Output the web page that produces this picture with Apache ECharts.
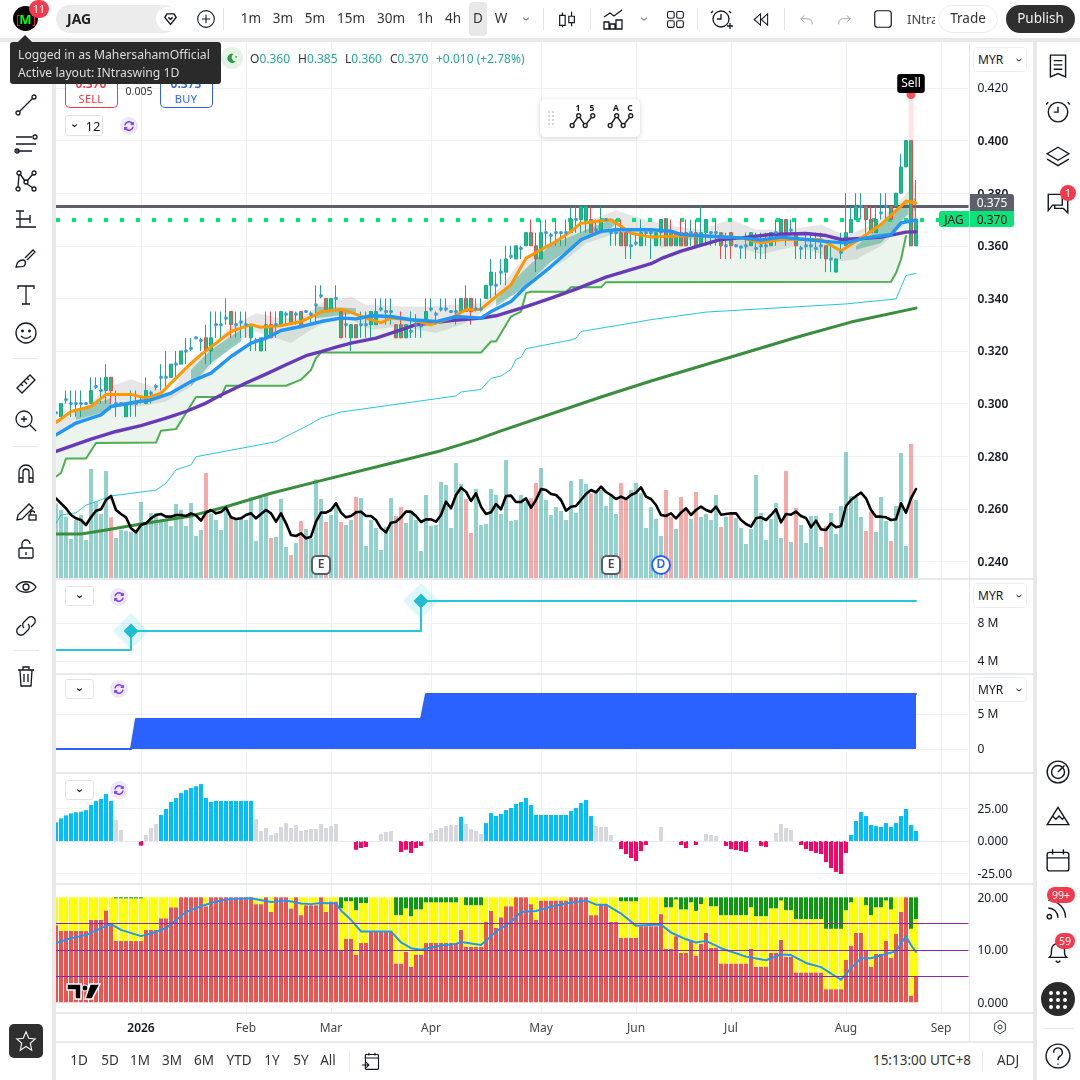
<!DOCTYPE html>
<html><head><meta charset="utf-8"><title>JAG</title>
<style>
html,body{margin:0;padding:0;background:#fff;width:1080px;height:1080px;overflow:hidden;font-family:"Noto Sans",sans-serif;color:#131722}
#chart{position:absolute;left:0;top:0;width:1080px;height:1080px}
.p{position:absolute}
.t{position:absolute;transform:translate(-50%,-50%);white-space:nowrap;font-size:13px;line-height:1}
.l{position:absolute;transform:translateY(-50%);white-space:nowrap;font-size:13px;line-height:1}
svg{position:absolute;overflow:visible}
</style>
<script src="https://cdn.jsdelivr.net/npm/echarts@6/dist/echarts.min.js"></script>
</head><body><div id="chart"></div><div id="ui"></div>
<script>
// ---------- DATA ----------
const BAR_SLOTS = 183;
const categories = Array.from({length: BAR_SLOTS}, (_, i) => 'd' + i);
const monthTicks = [17, 38, 55, 75, 97, 116, 135, 158, 177];
const monthLabels = ['2026', 'Feb', 'Mar', 'Apr', 'May', 'Jun', 'Jul', 'Aug', 'Sep'];

const opens = [.2965,.295,.3015,.30,.30,.30,.30,.30,.3065,.305,
.305,.31,.30,.30,.295,.30,.30,.301,.30,.304,
.3065,.31,.31,.31,.315,.315,.32,.321,.325,.324,
.325,.32,.33,.33,.3325,.335,.33,.331,.33,.325,
.324,.32,.325,.33,.33,.33,.334,.335,.334,.335,
.335,.334,.3375,.341,.34,.335,.34,.335,.33,.325,
.33,.33,.33,.33,.33,.336,.335,.335,.33,.33,
.325,.3275,.33,.3295,.33,.336,.334,.336,.336,.335,
.335,.335,.34,.34,.336,.336,.34,.345,.345,.35,
.35,.356,.355,.359,.36,.365,.36,.355,.365,.364,
.365,.365,.365,.365,.37,.37,.37,.37,.366,.365,
.37,.365,.365,.365,.365,.36,.361,.36,.365,.365,
.36,.365,.37,.365,.36,.365,.365,.365,.365,.36,
.365,.365,.365,.365,.36,.365,.36,.3595,.36,.36,
.359,.36,.36,.36,.365,.365,.37,.366,.365,.359,
.36,.36,.359,.36,.36,.355,.35,.3575,.36,.365,
.37,.375,.375,.37,.365,.3725,.375,.375,.375,.38,
.39,.40,.36];
const closes = [.2965,.30,.3015,.30,.30,.30,.30,.305,.3065,.305,
.31,.305,.30,.30,.30,.30,.30,.301,.305,.304,
.3065,.31,.31,.315,.315,.32,.32,.321,.325,.324,
.32,.325,.33,.33,.3325,.33,.33,.331,.33,.33,
.324,.325,.33,.325,.33,.335,.334,.33,.334,.33,
.335,.334,.3375,.341,.335,.34,.34,.325,.33,.33,
.325,.33,.33,.335,.335,.336,.335,.335,.325,.325,
.33,.3275,.33,.3295,.335,.336,.334,.336,.336,.335,
.335,.34,.335,.335,.336,.336,.345,.35,.345,.35,
.355,.356,.36,.359,.365,.36,.355,.365,.365,.364,
.365,.365,.365,.37,.37,.375,.375,.365,.366,.37,
.37,.365,.365,.36,.36,.36,.361,.365,.365,.365,
.365,.37,.36,.36,.365,.36,.36,.365,.36,.365,
.37,.365,.365,.36,.36,.36,.36,.3595,.36,.365,
.359,.36,.36,.365,.365,.37,.365,.366,.36,.359,
.36,.36,.359,.36,.355,.355,.355,.3575,.365,.37,
.375,.375,.37,.365,.37,.3725,.375,.37,.38,.39,
.40,.36,.37];
const highs = [.2995,.30,.305,.305,.305,.305,.3005,.31,.31,.31,
.315,.31,.305,.3005,.30,.305,.305,.303,.31,.305,
.3075,.315,.32,.315,.32,.32,.325,.325,.3255,.325,
.33,.335,.335,.335,.34,.335,.335,.335,.335,.33,
.325,.325,.335,.335,.335,.335,.335,.335,.335,.335,
.3355,.335,.345,.345,.34,.34,.345,.335,.335,.33,
.33,.335,.335,.335,.34,.34,.34,.34,.33,.335,
.33,.335,.334,.331,.34,.34,.335,.34,.34,.3355,
.34,.34,.345,.34,.34,.34,.345,.355,.35,.355,
.36,.36,.36,.36,.365,.37,.365,.37,.37,.365,
.37,.3655,.37,.375,.375,.375,.375,.375,.37,.375,
.3705,.3655,.37,.37,.365,.365,.365,.37,.3655,.3655,
.365,.37,.37,.37,.365,.37,.37,.37,.37,.375,
.37,.3655,.37,.365,.365,.365,.3605,.36,.365,.365,
.365,.365,.365,.365,.37,.37,.37,.37,.37,.36,
.365,.365,.365,.365,.36,.36,.355,.365,.38,.375,
.38,.38,.375,.375,.375,.38,.38,.375,.38,.395,
.40,.40,.385];
const lows = [.295,.295,.30,.295,.295,.295,.2995,.30,.3055,.30,
.30,.30,.295,.2995,.295,.295,.295,.30,.30,.30,
.305,.305,.305,.31,.31,.315,.315,.32,.3245,.32,
.315,.315,.325,.325,.33,.325,.325,.325,.325,.32,
.32,.32,.32,.325,.325,.33,.33,.33,.33,.33,
.3345,.33,.33,.34,.335,.335,.335,.325,.325,.32,
.325,.325,.325,.325,.33,.335,.33,.33,.325,.325,
.325,.325,.325,.325,.33,.335,.33,.335,.335,.3345,
.33,.335,.335,.33,.335,.335,.34,.34,.34,.345,
.345,.355,.355,.355,.36,.36,.35,.355,.36,.36,
.36,.36,.36,.365,.365,.365,.365,.365,.365,.365,
.3695,.36,.36,.36,.355,.355,.36,.36,.36,.355,
.36,.36,.36,.36,.36,.36,.36,.36,.36,.36,
.36,.36,.36,.355,.355,.355,.3595,.355,.355,.36,
.355,.355,.355,.36,.36,.365,.36,.365,.355,.355,
.355,.355,.355,.355,.35,.35,.35,.355,.36,.365,
.37,.37,.365,.365,.365,.37,.37,.37,.375,.38,
.39,.36,.36];

const volumes = [224,204,184,117,174,189,114,327,229,192,
321,182,120,144,142,139,144,228,164,195,
195,174,176,156,222,204,156,225,126,144,
315,194,174,144,204,182,179,179,174,242,
111,242,246,120,123,237,93,69,105,171,
147,119,296,237,168,189,224,168,159,174,
243,240,96,174,150,84,154,240,186,213,
165,201,174,81,249,156,159,288,279,150,
345,282,237,135,267,159,162,267,249,192,
354,171,174,249,228,239,285,330,234,189,
213,201,174,291,195,297,282,254,264,264,
216,249,192,285,239,264,285,254,150,213,
177,126,264,184,147,243,204,177,258,183,
192,174,249,153,184,198,180,150,102,147,
309,195,114,177,225,120,321,108,210,159,
105,186,186,93,156,195,132,216,378,246,
246,183,141,199,138,243,171,111,216,375,
96,402,234];
const oscillator = [239,224,209,189,179,174,159,182,202,206,
234,246,204,192,182,149,137,159,164,179,
189,192,184,184,189,189,186,194,188,172,
196,204,194,198,211,182,177,179,189,194,
179,192,204,194,169,194,164,129,126,134,
119,124,169,196,196,204,224,196,182,186,
197,199,186,186,174,149,137,166,169,182,
199,199,186,168,176,176,169,189,229,209,
249,271,259,231,254,214,192,197,222,206,
246,247,228,228,239,211,234,267,264,252,
249,234,202,214,216,234,252,264,257,274,
258,249,237,244,237,249,256,272,244,237,
219,189,186,194,179,196,209,189,204,214,
204,198,214,190,192,194,194,174,162,154,
179,182,174,189,206,167,192,190,199,186,
180,152,172,146,144,164,152,156,216,234,
246,256,239,204,184,184,182,174,176,224,
196,239,267];

const orangeLine = [[0,.2928],[3,.297],[7,.2989],[10,.3035],[15,.3035],[18,.3021],[21,.304],[26,.3135],[29,.3186],[32,.323],[35,.3274],[39,.33],[41,.329],[45,.3296],[49,.3312],[53,.3348],[57,.3359],[59,.3347],[62,.3325],[65,.3308],[67,.3325],[71,.3319],[75,.33],[79,.3325],[82,.3357],[85,.3359],[88,.3407],[91,.3452],[94,.3553],[97,.3585],[100,.3616],[103,.3655],[105,.3686],[111,.3699],[113,.3674],[115,.3648],[119,.3633],[125,.3637],[130,.3637],[137,.363],[141,.3611],[145,.3624],[153,.3624],[157,.358],[161,.363],[165,.3681],[169,.3751],[170,.377],[172,.3763]];
const blueLine = [[0,.2881],[4,.2926],[9,.2957],[11,.2989],[16,.3006],[19,.3014],[23,.304],[27,.3084],[31,.3116],[35,.3179],[39,.323],[42,.3249],[45,.3278],[49,.3293],[53,.3312],[57,.3325],[60,.3322],[63,.3334],[67,.3331],[71,.3319],[76,.3312],[80,.3331],[85,.3325],[87,.335],[91,.3388],[94,.3445],[99,.3521],[102,.3572],[105,.3623],[109,.3655],[112,.3661],[119,.3661],[123,.3656],[125,.3643],[130,.3637],[137,.363],[141,.3622],[145,.3633],[150,.3624],[155,.3615],[158,.3611],[162,.363],[167,.3643],[169,.3687],[172,.3698]];
const purpleLine = [[0,.2818],[7,.2865],[12,.2894],[17,.2916],[22,.2945],[26,.297],[30,.3002],[33,.3033],[38,.3078],[42,.3112],[46,.3148],[50,.3182],[53,.3198],[56,.3215],[59,.323],[64,.3249],[69,.328],[72,.33],[79,.3316],[85,.3325],[88,.3334],[94,.3369],[99,.3401],[104,.3435],[110,.3481],[115,.3509],[119,.3532],[121,.3551],[125,.358],[133,.3624],[137,.363],[143,.3643],[150,.3647],[154,.3639],[157,.3624],[161,.3628],[165,.3633],[170,.3652],[172,.3653]];
const stopLine = [[0,.2723],[1,.2736],[2,.2791],[6,.2791],[8,.285],[20,.2852],[21,.2897],[24,.2903],[28,.3025],[33,.3025],[34,.3068],[46,.3068],[49,.3091],[51,.3128],[52,.3173],[53,.3194],[85,.3194],[87,.3236],[88,.3236],[91,.3331],[93,.335],[94,.342],[95,.3425],[102,.3425],[103,.3442],[109,.3442],[110,.3461],[167,.3463],[168,.3497],[169,.3548],[170,.3637]];
const cyanLine = [[0,.2545],[1,.2576],[4,.2585],[6,.2614],[8,.2627],[11,.2649],[20,.2671],[22,.2697],[24,.2748],[27,.2767],[28,.2798],[44,.2855],[46,.2875],[50,.2913],[53,.2945],[57,.2968],[80,.3029],[81,.3044],[85,.3054],[87,.3096],[89,.3105],[91,.313],[92,.3168],[93,.3176],[94,.3209],[103,.3242],[104,.3249],[105,.3274],[119,.3319],[130,.3348],[158,.3379],[168,.3398],[170,.3487],[172,.3495]];
const darkGreenLine = [[0,.2504],[5,.2504],[10,.2519],[17,.2542],[27,.2573],[34,.2608],[43,.2659],[53,.2707],[67,.2773],[77,.2821],[84,.2862],[89,.2896],[109,.3025],[119,.3086],[129,.3143],[149,.3257],[159,.331],[172,.3363]];
const cloudUpper = [[0,.2938],[7,.3002],[10,.3059],[15,.3093],[19,.3065],[23,.304],[27,.3167],[30,.3205],[35,.3293],[40,.3344],[45,.3325],[49,.3325],[53,.3382],[59,.3407],[62,.3376],[69,.3369],[74,.3369],[79,.3376],[85,.3382],[89,.3445],[93,.354],[96,.3585],[101,.3635],[107,.3699],[112,.3734],[118,.3699],[123,.3675],[129,.3662],[135,.37],[140,.3662],[147,.3662],[153,.3681],[158,.3637],[164,.3687],[169,.3776],[172,.384]];
const cloudLower = [[0,.2875],[7,.2945],[11,.2989],[17,.2989],[22,.3008],[27,.3065],[30,.3122],[35,.3217],[40,.3274],[47,.323],[51,.3281],[55,.3319],[59,.3319],[63,.3281],[69,.3293],[76,.3268],[82,.3306],[88,.3382],[92,.342],[96,.3483],[102,.3547],[106,.361],[112,.3648],[118,.3648],[121,.3592],[127,.3624],[134,.3611],[141,.3567],[148,.3599],[157,.3542],[160,.3548],[165,.3599],[170,.3687],[172,.37]];
const tealBands = [
 {up:[[4,.2976],[11,.3021]], lo:[[4,.2938],[11,.2976]]},
 {up:[[27,.3129],[31,.3205],[37,.3281]], lo:[[27,.3065],[31,.3154],[37,.3236]]},
 {up:[[52,.3369],[60,.3363]], lo:[[52,.3325],[60,.3344]]},
 {up:[[88,.3395],[93,.3496],[99,.3604],[106,.3661],[111,.3699],[112,.3686]], lo:[[88,.3369],[93,.3433],[99,.354],[106,.3629],[111,.3667],[112,.3686]]},
 {up:[[160,.3599],[165,.3675],[170,.377],[172,.3783]], lo:[[160,.3585],[165,.3611],[170,.3713],[172,.3738]]}
];

const earningsAt = [53, 111];
const dividendAt = [121];
const sellAt = 171, sellLevel = .4175;

const lineLevelA = [[0,5.16],[15,7.16],[73,10.32],[172,10.32]];
const diamonds = [[15,7.16],[73,10.32]];
const blueArea = [[0,0],[15,0],[16,4.3],[73,4.3],[74,7.86],[172,7.86]];

const histogram = [14.4,17.4,19.7,21.3,22.1,22.6,23.8,27.7,30.8,32.3,
36.2,30.8,16.2,8.5,0,0,0,-3.6,4.6,10,
13.1,20,24.6,30,33.1,36.9,39.2,40.8,42.1,43.8,
33.1,30,30.8,30.8,30.8,30.8,30.8,30.8,30.8,30.8,
16.9,7.7,10,4.6,6.2,10.8,13.8,10,12.3,7.7,
8.5,9.2,9.2,13.1,10,11.5,13.1,0,0,0,
-6.7,-5.4,-4.6,0,0,5.4,6.9,7.7,0,-8.5,
-6.7,-9.2,-5.4,-3.8,0,6.2,8.5,10,11.5,12.3,
12.3,18.5,13.1,9.2,7.7,5.4,13.8,21.5,19.2,20.8,
23.8,25.4,28.5,30,33.1,27.7,20,20,20,20,
20,20,20,23.1,25.4,29.2,31.5,19.2,11.5,10.8,
10.8,4.6,0,-6.2,-10,-13.1,-15.4,-7.7,-3.1,0,
0,10.8,0,0,0,-3.1,-5.4,0,-3.1,0,
5.4,4.6,3.8,0,-3.8,-6.2,-6.9,-7.7,-8.5,0,
0,-3.8,-4.6,0,6.2,13.1,10,8.5,0,-3.1,
-6.2,-7.7,-9.2,-10,-16.2,-20.8,-23.8,-25.4,-9.2,4.6,
15.4,22.3,19.2,12.3,11.5,10.8,13.8,10.8,13.8,19.2,
24.6,12.3,7.7];
const histBlueRanges = [[0,11],[21,39],[81,81],[86,107],[159,172]];

const redStack = [14.7,13.6,13.6,13.6,13.6,13.6,13.6,15.7,15.7,15.7,
17.5,14.7,11.7,11.7,11.7,11.7,11.7,11.7,13.8,13.8,
13.8,16,16,18.1,18.1,20,20,20,20,20,
18.3,20,20,20,20,20,20,20,20,20,
18.7,18.7,20,17.2,20,20,20,17.9,20,16.6,
18.5,18.5,18.5,20,17.2,19.2,19.2,9.8,12.1,12.1,
9.1,11.3,11.3,13.4,13.4,13.4,13.4,13.4,7.4,7.4,
9.6,6.8,9.1,9.1,11.3,11.3,11.3,11.3,11.3,11.3,
11.3,13.8,10.6,10.6,10.6,10.6,15.3,17.4,14.2,16.2,
18.3,18.3,20,20,20,18.7,15.7,19.4,19.4,19.4,
19.4,19.4,19.4,20,20,20,20,16.6,16.6,18.7,
18.7,15.3,15.3,12.3,12.3,12.3,12.3,14.5,14.5,14.5,
14.5,16.8,10.2,10.2,12.6,9.4,9.4,11.9,8.9,11.1,
13.2,10.4,10.4,7.4,7.4,7.4,7.4,7.4,7.4,10.2,
6.8,6.8,6.8,9.4,9.4,11.9,8.7,8.7,5.7,5.7,
5.7,5.7,5.7,5.7,2.5,2.5,2.5,2.5,8.1,10.8,
13.2,13.2,9.8,6.8,9.2,9.2,11.7,8.5,13,17.2,
20,1.3,4.9];
const greenStack = [0,0,0,0,0,0,0,0,0,0,
0,0,.2,.2,.2,.2,.2,.2,0,0,
0,0,0,0,0,0,0,0,0,0,
0,0,0,0,0,0,0,0,0,0,
0,0,0,0,0,0,0,0,0,0,
0,0,0,0,0,0,0,2.1,.75,.75,
2.45,1.1,1.1,0,0,0,0,0,3.4,3.4,
2.1,3.6,2.3,2.3,.95,.95,.95,.95,.95,.95,
.95,0,1.5,1.5,1.5,1.5,0,0,0,0,
0,0,0,0,0,0,0,0,0,0,
0,0,0,0,0,0,0,0,0,0,
0,0,0,.75,.75,.75,.75,0,0,0,
0,0,1.9,1.9,.4,2.3,2.3,.95,2.6,1.3,
0,1.7,1.7,3.4,3.4,3.4,3.4,3.4,3.4,1.9,
3.6,3.6,3.6,2.1,2.1,.6,2.45,2.45,4.15,4.15,
4.15,4.15,4.15,4.15,6,6,6,6,2.45,.95,
0,0,1.5,3.4,1.9,1.9,.6,2.3,0,0,
0,6,4.15];
const bandLine = [[0,11.3],[3,12.2],[6,12.8],[9,14.1],[11,14.9],[13,13.8],[17,12.6],[19,13.1],[22,14.1],[26,17.2],[29,18.3],[32,19.2],[35,19.7],[39,19.8],[43,19.1],[46,19.4],[49,18.8],[51,18.7],[53,18.9],[56,18.8],[57,17.5],[59,15.7],[61,13.5],[67,13.5],[69,11.4],[71,10.3],[73,10],[77,10.8],[80,11.1],[81,11.5],[85,10.9],[87,12.6],[88,13.5],[91,15.3],[93,17.2],[96,17.4],[99,18.2],[102,18.8],[106,19.4],[108,18.6],[110,18.6],[113,16.9],[116,14.6],[121,14.8],[123,13.3],[126,12],[128,11.4],[130,11.7],[133,10.3],[138,8.7],[142,8],[145,9.1],[147,9],[150,7.5],[153,6.7],[157,4.3],[159,6.5],[161,8.4],[163,8.4],[166,9.2],[168,9.7],[170,12.6],[171,10.9],[172,9.6]];
const bandLevels = [15, 10, 5];

const priceLevelGrey = .375, priceLevelGreen = .37;
const priceTicksFaint = [.42];

// ---------- chart ----------
const chart = echarts.init(document.getElementById('chart'), null, {renderer:'canvas'});
const LEFT = 53.5, RIGHTGAP = 111.5, GRIDC = '#f0f1f5', TXT = '#131722', FONT = '"Noto Sans",sans-serif';
const tickSet = new Set(monthTicks);
const isTick = i => tickSet.has(i);
const grid = (top, h) => ({left:LEFT, right:RIGHTGAP, top, height:h});
const grids = [grid(35.4,578.6), grid(42,536), grid(585,114), grid(679,105), grid(776,130), grid(897.3,105)];
const xAxes = grids.map((g,k)=>({
  type:'category', gridIndex:k, data:categories, boundaryGap:true,
  axisLine:{show:false},
  axisTick: k===5 ? {show:true, interval:i=>isTick(i), alignWithLabel:true, length:10, lineStyle:{color:GRIDC}} : {show:false},
  axisLabel: k===5 ? {show:true, interval:i=>isTick(i), margin:20, fontFamily:FONT, fontSize:12, color:'#444',
     formatter:(v,i)=>{const n=monthTicks.indexOf(i); const s=n>=0?monthLabels[n]:''; return n===0?'{b|'+s+'}':s;},
     rich:{b:{fontWeight:600,color:TXT,fontSize:12,fontFamily:FONT}}} : {show:false},
  splitLine:{show:k!==1, interval:i=>isTick(i), alignWithLabel:true, lineStyle:{color:GRIDC,width:1}}
}));
const valAxis = (k,min,max,interval,fmt,extra) => Object.assign({
  type:'value', gridIndex:k, position:'right', min, max, interval, scale:false,
  axisLine:{show:false}, axisTick:{show:false},
  axisLabel:{show:true, margin:9, padding:[2,0,0,0], fontFamily:FONT, fontSize:12, color:TXT, showMinLabel:false, showMaxLabel:false, formatter:fmt,
    rich:{b:{fontWeight:600,color:TXT,fontSize:12,fontFamily:FONT}}},
  splitLine:{show:true, showMinLine:false, showMaxLine:false, lineStyle:{color:GRIDC,width:1}}
}, extra||{});
const yAxes = [
  valAxis(0,.22,.44,.02,v=>{const s=v.toFixed(3); return priceTicksFaint.some(t=>Math.abs(t-v)<1e-6)?s:'{b|'+s+'}';}),
  {type:'value', gridIndex:1, min:0, max:1608, show:false},
  valAxis(2,0,12,4,v=>v+' M'),
  valAxis(3,-5,10,5,v=>v===0?'0':v+' M'),
  valAxis(4,-50,50,25,v=>v===0?'0.000':v.toFixed(2)),
  valAxis(5,0,20,10,v=>v===0?'0.000':v.toFixed(2))
];
yAxes[5].axisLabel.showMinLabel = true; yAxes[5].axisLabel.showMaxLabel = true;
yAxes[5].splitLine.show = false;

const on = k => ({xAxisIndex:k, yAxisIndex:k});
const polyBand = (up, lo, fill, z) => Object.assign(on(0),{
  type:'custom', z, silent:true, clip:true, data:[[0,.3]],
  encode:{x:0,y:1},
  renderItem:(p,api)=>({type:'polygon', shape:{points: up.map(q=>api.coord(q)).concat(lo.slice().reverse().map(q=>api.coord(q)))}, style:{fill}})
});
const line = (k,data,color,width,z,more) => Object.assign(on(k),{
  type:'line', data, z, silent:true, symbol:'none', showSymbol:false, clip:true,
  lineStyle:{color,width,cap:'round',join:'round'}, animation:false
}, more||{});
const hasDoji = i => opens[i]===closes[i];
const dojis = opens.map((o,i)=>[i,closes[i]]).filter(d=>hasDoji(d[0]));
const histColor = (v,i) => v<0 ? '#ff0066' : histBlueRanges.some(r=>i>=r[0]&&i<=r[1]) ? '#00bfff' : '#d6d8de';

const series = [
  // volume + oscillator
  Object.assign(on(1),{type:'bar', z:1, silent:true, barWidth:4, data:volumes.map((v,i)=>({value:v,itemStyle:{color:closes[i]<opens[i]?'rgba(239,83,80,.5)':'rgba(38,166,154,.5)'}}))}),
  // cloud fills
  polyBand(blueLine, stopLine, '#ebf5ee', 2),
  polyBand(cloudUpper, cloudLower, 'rgba(130,130,130,.2)', 3),
  ...tealBands.map(b=>polyBand(b.up,b.lo,'rgba(80,175,150,.55)',4)),
  line(0,cyanLine,'#26c6da',1,4),
  line(0,darkGreenLine,'#388e3c',3,4),
  line(0,stopLine,'#4caf50',2,4),
  line(1,oscillator.map((v,i)=>[i,v]),'#000',2.6,5),
  line(0,[[sellAt,.36],[sellAt,sellLevel]],'#fde3e3',5,4,{lineStyle:{color:'#fde3e3',width:5,cap:'butt'}}),
  // candles
  Object.assign(on(0),{type:'candlestick', z:6, silent:true, barWidth:3,
    data:opens.map((o,i)=>[o,closes[i],lows[i],highs[i]]),
    itemStyle:{color:'#0ec77c',color0:'#0ec77c',borderColor:'#1fa397',borderColor0:'#f0454f',borderColorDoji:'#1fa397',borderWidth:1}}),
  line(0,purpleLine,'#673ab7',3.4,7),
  line(0,orangeLine,'#ff9800',3,8),
  line(0,blueLine,'#2196f3',3.4,8),
  Object.assign(on(0),{type:'scatter', z:9, silent:true, symbol:'rect', symbolSize:3, data:dojis, itemStyle:{color:'#3a9ad9',opacity:1},
    markLine:{silent:true, symbol:'none', precision:4, label:{show:false}, animation:false, data:[
      {yAxis:priceLevelGrey, lineStyle:{color:'#5d606b',width:3,type:'solid'}},
      {yAxis:priceLevelGreen, lineStyle:{color:'#00e676',width:4,type:[4,12],dashOffset:13.5}}
    ]}}),
  Object.assign(on(0),{type:'scatter', z:10, silent:true, symbol:'circle', symbolSize:9, data:[[sellAt,sellLevel]], itemStyle:{color:'#ff5252',opacity:1},
    label:{show:true, position:'top', distance:-3, formatter:'Sell', color:'#fff', backgroundColor:'#000', padding:[4,4,3,4], borderRadius:3, fontSize:12, fontFamily:FONT}}),
  // earnings / dividend
  Object.assign(on(1),{type:'scatter', z:10, silent:true, symbol:'roundRect', symbolSize:[18,18], data:earningsAt.map(i=>[i,39]),
    itemStyle:{color:'#fff',borderColor:'#5b5e68',borderWidth:2,opacity:1},
    label:{show:true,position:'inside',formatter:'E',color:'#444',fontWeight:600,fontSize:12,fontFamily:FONT}}),
  Object.assign(on(1),{type:'scatter', z:10, silent:true, symbol:'circle', symbolSize:18, data:dividendAt.map(i=>[i,39]),
    itemStyle:{color:'#fff',borderColor:'#2962ff',borderWidth:2,opacity:1},
    label:{show:true,position:'inside',formatter:'D',color:'#2962ff',fontWeight:600,fontSize:12,fontFamily:FONT}}),
  // pane 2
  line(2,lineLevelA,'#26c6da',2,3,{step:'end'}),
  Object.assign(on(2),{type:'scatter', z:3, silent:true, symbol:'diamond', symbolSize:36, data:diamonds, itemStyle:{color:'rgba(38,198,218,.16)',opacity:1}}),
  Object.assign(on(2),{type:'scatter', z:4, silent:true, symbol:'diamond', symbolSize:15, data:diamonds, itemStyle:{color:'#1fbdd0',opacity:1}}),
  // pane 3
  line(3,blueArea,'#2962ff',2,3,{areaStyle:{color:'#2962ff',opacity:1,origin:0}}),
  // pane 4
  Object.assign(on(4),{type:'bar', z:3, silent:true, barWidth:4, data:histogram.map((v,i)=>({value:v,itemStyle:{color:histColor(v,i)}})),
    markLine:{silent:true,symbol:'none',label:{show:false},animation:false,data:[{yAxis:0,lineStyle:{color:'#e3e5ea',width:1,type:[3,3]}}]}}),
  // pane 5
  Object.assign(on(5),{type:'bar', z:2, silent:true, stack:'b', barWidth:4, data:redStack, itemStyle:{color:'#ef5350'}}),
  Object.assign(on(5),{type:'bar', z:2, silent:true, stack:'b', barWidth:4, data:redStack.map((r,i)=>20-r-greenStack[i]), itemStyle:{color:'#ffff00'}}),
  Object.assign(on(5),{type:'bar', z:2, silent:true, stack:'b', barWidth:4, data:greenStack, itemStyle:{color:'#0e9a0e'},
    markLine:{silent:true,symbol:'none',label:{show:false},animation:false,data:bandLevels.map(v=>({yAxis:v,lineStyle:{color:'#8e24aa',width:1,type:'solid'}}))}}),
  line(5,bandLine,'#2196f3',2,4)
];
chart.setOption({animation:false, backgroundColor:'#fff', grid:grids, xAxis:xAxes, yAxis:yAxes, series});

// ---------- chrome (real text, drawn as page elements) ----------
const ui = document.getElementById('ui');
const add = (html)=>ui.insertAdjacentHTML('beforeend',html);
const rect = (x,y,w,h,bg,extra='')=>add(`<div class="p" style="left:${x}px;top:${y}px;width:${w}px;height:${h}px;background:${bg};${extra}"></div>`);
const txt = (x,y,s,css='')=>add(`<div class="t" style="left:${x}px;top:${y}px;${css}">${s}</div>`);
const ltxt = (x,y,s,css='')=>add(`<div class="l" style="left:${x}px;top:${y}px;${css}">${s}</div>`);
const ic = (cx,cy,inner,s=24,col='#131722',sw=1.3)=>add(`<svg style="left:${cx-s/2}px;top:${cy-s/2}px" width="${s}" height="${s}" viewBox="0 0 24 24" fill="none" stroke="${col}" stroke-width="${sw}">${inner}</svg>`);

const STRIP='#e9e9ea';
// panels
rect(0,0,1080,38,'#fff'); rect(0,38,1080,4,STRIP);
rect(0,42,52,1038,'#fff'); rect(52,42,4,1038,STRIP);
rect(1033,42,4,1038,STRIP); rect(1037,42,43,1038,'#fff');
rect(56,1042,977,38,'#fff'); rect(56,1041,977,1.5,'#e8e9ee');
// pane separators
[[578,2],[673,2],[772,1.5],[883,1.5],[1012,2]].forEach(a=>rect(56,a[0],977,a[1],'#e8e9ef'));
rect(969,42,1,999,'#e2e3ea');

// price tags
rect(970,194,44,17,'#5d606b','border-radius:0 3px 0 0');
txt(992,203,'0.375','color:#fff;font-size:12px');
rect(939,211,30,16,'#0be27a','border-radius:3px 0 0 3px');
txt(954,219.5,'JAG','font-size:12px');
rect(970,211,44,16,'#0be27a','border-radius:0 0 3px 0');
txt(992,219.5,'0.370','font-size:12px');

// MYR selectors
[[47],[583],[677]].forEach(a=>{
  rect(973,a[0],54,25,'#fff','border:1px solid #eceef2;border-radius:4px;box-sizing:border-box');
  ltxt(978,a[0]+12.5,'MYR','font-size:12px');
  ic(1019,a[0]+12.5,'<path d="M7 10l5 4 5-4"/>',12,'#131722',2);
});

// tooltip + header
txt(232,58,'<span style="display:block;width:22px;height:22px;border-radius:50%;background:#e4f2e7"></span>','');
ic(232,58,'<path d="M15 5a8 8 0 1 0 3 13 7 7 0 0 1-3-13z" fill="#2e9e46" stroke="none"/><circle cx="19" cy="10" r="1.5" fill="#2e9e46" stroke="none"/>',14);
const G='color:#26a69a', HD='font-size:12px;color:#333';
[[250,'O','0.360'],[298,'H','0.385'],[345,'L','0.360'],[390,'C','0.370']].forEach(a=>ltxt(a[0],59,`${a[1]}<span style="${G}">${a[2]}</span>`,HD));
ltxt(436,59,`<span style="${G}">+0.010 (+2.78%)</span>`,HD);

// sell / buy
rect(65,78,53,30,'#fff','border:1px solid #f23645;border-top:none;border-radius:0 0 5px 5px;box-sizing:border-box');
txt(91,84,'0.370','color:#f23645;font-size:12px;font-weight:600');
txt(91,98,'SELL','color:#f23645;font-size:11px;letter-spacing:.3px');
txt(139,91,'0.005','font-size:10.5px;color:#333');
rect(160,78,53,30,'#fff','border:1px solid #2962ff;border-top:none;border-radius:0 0 5px 5px;box-sizing:border-box');
txt(186,84,'0.373','color:#2962ff;font-size:12px;font-weight:600');
txt(186,98,'BUY','color:#2962ff;font-size:11px;letter-spacing:.3px');
rect(10,42,211,42,'#2a2a2b','border-radius:3px');
ltxt(18,55,'Logged in as MahersahamOfficial','color:#dcdcdc;font-size:12.2px');
ltxt(18,73,'Active layout: INtraswing 1D','color:#dcdcdc;font-size:12.2px');
add('<div class="p" style="left:20px;top:37px;width:10px;height:10px;background:#2a2a2b;transform:rotate(45deg)"></div>');

// pane buttons
const sync=(x,y)=>{add(`<div class="p" style="left:${x-9}px;top:${y-9}px;width:18px;height:18px;border-radius:50%;background:#ece7fb"></div>`);
  ic(x,y,'<path d="M5 11a7 7 0 0 1 12-4l2 2M19 13a7 7 0 0 1-12 4l-2-2" /><path d="M19 5v4h-4M5 19v-4h4"/>',14,'#7c3aed',2.4);};
rect(65,115,38,21,'#fff','border:1px solid #e2e3ea;border-radius:3px;box-sizing:border-box');
ic(74,125,'<path d="M7 10l5 4 5-4"/>',11,'#131722',2.5); txt(93,125.5,'12','font-size:13px'); sync(129,126);
[[596,119],[689,119],[790,119]].forEach(a=>{
  rect(65,a[0]-10,29,20,'#fff','border:1px solid #e2e3ea;border-radius:3px;box-sizing:border-box');
  ic(79.5,a[0],'<path d="M7 10l5 4 5-4"/>',11,'#131722',2.5); sync(a[1],a[0]+ (a[0]===596?1:0));
});

// floating drawing widget
rect(540,99,100,38,'#fff','border-radius:5px;box-shadow:0 1px 5px rgba(0,0,0,.18)');
[[549,116],[553,116],[549,120],[553,120],[549,124],[553,124],[549,112],[553,112]].forEach(a=>rect(a[0]-1,a[1]-1,2,2,'#d3d5da'));
const zig=(x,a,b)=>{ic(x,119,'<path d="M2 18l6-9 6 9 7-9"/><circle cx="2" cy="18" r="1.8" fill="#fff"/><circle cx="8" cy="9" r="1.8" fill="#fff"/><circle cx="14" cy="18" r="1.8" fill="#fff"/><circle cx="21" cy="9" r="1.8" fill="#fff"/>',26,'#222',1.3);
  txt(x-5,108,a,'font-size:8.5px;font-weight:700');txt(x+9,108,b,'font-size:8.5px;font-weight:700');};
zig(583,'1','5'); zig(621,'A','C');

// TradingView style mark
add('<svg style="left:66px;top:982px" width="36" height="20" viewBox="0 0 36 20"><path d="M1 2h14v15H9V8H1z M24 2h10l-8 15h-7z" fill="#000" stroke="#fff" stroke-width="1.5"/><circle cx="19" cy="6" r="3" fill="#000" stroke="#fff" stroke-width="1"/></svg>');

// top toolbar
add('<div class="p" style="left:13px;top:6px;width:25px;height:25px;border-radius:50%;background:#000"></div>');
txt(25.5,19,'<span style="color:#0f0;font-weight:700;font-size:13px">M</span>','');
ltxt(16,19,'<span style="color:#e22;font-size:12px">[</span>',''); ltxt(32,19,'<span style="color:#e22;font-size:12px">]</span>','');
add('<div class="p" style="left:29px;top:0;width:20px;height:18px;border-radius:10px;background:#f23a4d"></div>');
txt(39,9,'11','color:#fff;font-size:10.5px');
rect(56,5,122,28,'#ececec','border-radius:14px');
ltxt(67,19,'JAG','font-weight:700;font-size:14px;color:#222');
add('<div class="p" style="left:156px;top:7px;width:24px;height:24px;border-radius:50%;background:#fff"></div>');
ic(170,19,'<path d="M4 9l3-5h10l3 5-8 10z"/><path d="M9 9l3 3 3-3" stroke-width="2"/>',17,'#131722',2);
ic(206,19,'<circle cx="12" cy="12" r="10"/><path d="M12 7v10M7 12h10"/>',20);
rect(223,8,1,22,'#e2e3e6');
[['1m',251],['3m',283],['5m',315],['15m',351],['30m',391],['1h',425],['4h',453]].forEach(a=>txt(a[1],19,a[0],'font-size:13.5px;color:#333'));
rect(469,2,18,34,'#e8e8e8','border-radius:4px');
txt(478,19,'D','font-size:13.5px;color:#333'); txt(501,19,'W','font-size:13.5px;color:#333');
ic(526,19,'<path d="M7 10l5 4 5-4"/>',14);
rect(543,8,1,22,'#e2e3e6');
ic(567,19,'<path d="M7 5v3M7 19v2M4 8h6v11H4z M17 4v5M17 16v4M14 9h6v7h-6z"/>',22);
rect(590,8,1,22,'#e2e3e6');
ic(613,19,'<path d="M3 10l6-4 4 3 8-6"/><path d="M3 22v-7h5v7zM9 22v-5h5v5zM15 22v-9h6v9z"/>',24);
ic(644,19,'<path d="M7 10l5 4 5-4"/>',14);
ic(675,19,'<rect x="3" y="3" width="8" height="8" rx="2"/><rect x="14" y="3" width="8" height="8" rx="2"/><rect x="3" y="14" width="8" height="8" rx="2"/><rect x="14" y="14" width="8" height="8" rx="2"/>',20);
rect(697,8,1,22,'#e2e3e6');
ic(722,19,'<circle cx="11" cy="12" r="8"/><path d="M11 7v5H7M3 4L1 6M19 4l2 2M17 19h6M20 16v6"/>',24);
ic(760,19,'<path d="M12 5l-8 7 8 7zM21 5l-8 7 8 7z"/>',19);
rect(784,8,1,22,'#e2e3e6');
ic(806,19,'<path d="M9 6L4 11l5 5M4 11h10a6 6 0 0 1 6 6v2"/>',17,'#9a9ea8');
ic(844,19,'<path d="M15 6l5 5-5 5M20 11H10a6 6 0 0 0-6 6v2"/>',17,'#9a9ea8');
ic(883,19,'<rect x="3" y="3" width="18" height="18" rx="3"/>',22,'#131722',1.3);
ltxt(907,19,'INtra','font-size:13px;color:#444;width:28px;overflow:hidden');
rect(938,5,60,28,'#fff','border:1px solid #ececee;border-radius:14px;box-sizing:border-box');
txt(968,19,'Trade','font-size:13.5px;color:#333');
rect(1006,5,69,28,'#2f2f2f','border-radius:14px');
txt(1040.5,19,'Publish','font-size:13.5px;color:#f2f2f2');

// left toolbar
const LI=[
 [105,'<circle cx="4" cy="20" r="2"/><circle cx="20" cy="4" r="2"/><path d="M5.5 18.5l13-13"/>'],
 [144,'<path d="M2 5h16M2 12h20M2 19h16"/><circle cx="21" cy="5" r="2"/><circle cx="3" cy="19" r="2"/>'],
 [181,'<circle cx="5" cy="4" r="2"/><circle cx="20" cy="4" r="2"/><circle cx="12" cy="13" r="2"/><circle cx="4" cy="20" r="2"/><circle cx="20" cy="20" r="2"/><path d="M5 6l-1 12M6 5l5 7M13 12l6-7M13 15l6 4"/>'],
 [219,'<path d="M2 4h8M2 12h14M2 20h20M6 4v16M16 8v8"/>'],
 [258,'<path d="M2 21c1-6 4-7 7-7 3 0 3 4 1 6-2 1-5 1-8 1zM11 12l8-8 2 2-8 8"/>'],
 [295,'<path d="M4 6V3h16v3M12 3v18M8 21h8"/>'],
 [333,'<circle cx="12" cy="12" r="10"/><circle cx="8.5" cy="10" r=".8" fill="#131722"/><circle cx="15.5" cy="10" r=".8" fill="#131722"/><path d="M7 15c3 3 7 3 10 0"/>'],
 [384,'<path d="M3 16L16 3l5 5L8 21z M7 12l2 2M10 9l3 3M13 6l2 2"/>'],
 [421,'<circle cx="10" cy="10" r="8"/><path d="M16 16l6 6M7 10h6M10 7v6"/>'],
 [473,'<path d="M5 11a7 7 0 0 1 14 0v10h-4V11a3 3 0 0 0-6 0v10H5z M5 17h4M15 17h4"/>'],
 [511,'<path d="M3 21l1-5L15 5l4 4L8 20z"/><rect x="15" y="16" width="7" height="5"/><path d="M16.5 16v-2a2 2 0 0 1 4 0"/>'],
 [549,'<rect x="5" y="11" width="14" height="10" rx="1"/><path d="M8 11V7a4 4 0 0 1 8 0M12 15v3"/>'],
 [587,'<path d="M2 12c4-7 16-7 20 0-4 7-16 7-20 0z"/><circle cx="12" cy="12" r="3"/>'],
 [626,'<path d="M10 14a4 4 0 0 1 0-6l4-4a4 4 0 0 1 6 6l-3 3M14 10a4 4 0 0 1 0 6l-4 4a4 4 0 0 1-6-6l3-3"/>'],
 [676,'<path d="M4 6h16M9 6V3h6v3M6 6l1 16h10l1-16M10 10v8M14 10v8"/>']
];
LI.forEach(a=>ic(26,a[0],a[1],24));
[[358],[446],[650]].forEach(a=>rect(13,a[0],26,1,'#e6e7ea'));
rect(9,1024,34,34,'#2f2f2f','border-radius:5px');
ic(26,1041,'<path d="M12 2l3 7 7 .7-5.3 4.8L18.2 22 12 18l-6.2 4 1.5-7.5L2 9.7 9 9z"/>',22,'#f2f2f2',1.3);

// right sidebar
const RI=[
 [66,'<path d="M5 2h14v20l-7-3-7 3z M8 7h8M8 11h8M8 15h8"/>'],
 [111,'<circle cx="12" cy="13" r="9"/><path d="M12 8v5H8M3 4L1 6M21 4l2 2"/>'],
 [157,'<path d="M12 3l10 6-10 6L2 9z"/><path d="M2 14l10 6 10-6"/>'],
 [203,'<path d="M3 4h13v10H7l-4 5zM19 8h2v13l-4-4H9v-3"/>'],
 [772,'<circle cx="12" cy="12" r="10"/><circle cx="12" cy="12" r="6"/><path d="M12 12l6-6"/>'],
 [816,'<path d="M2 20l10-16 10 16zM7 12l3 3 3-3 3 3 2-2"/>'],
 [860,'<rect x="2" y="5" width="20" height="17" rx="2"/><path d="M2 10h20M7 2v5M17 2v5"/>'],
 [908,'<path d="M3 5a16 16 0 0 1 16 16M3 12a9 9 0 0 1 9 9"/><circle cx="4" cy="20" r="2"/>'],
 [952,'<path d="M4 17c2-2 2-3 2-7a6 6 0 0 1 12 0c0 4 0 5 2 7zM10 20c1 2 3 2 4 0"/>'],
 [1056,'<circle cx="12" cy="12" r="11"/><path d="M8 9a4 4 0 1 1 6 3c-2 1-2 2-2 4M12 19v1"/>']
];
RI.forEach(a=>ic(1058,a[0],a[1],26));
const badge=(x,y,s,w)=>{add(`<div class="p" style="left:${x-w/2}px;top:${y-8}px;width:${w}px;height:16px;border-radius:8px;background:#f23a4d"></div>`);txt(x,y,s,'color:#fff;font-size:10.5px');};
badge(1068,193,'1',16); badge(1061,895,'99+',28); badge(1065,941,'59',20);
add('<div class="p" style="left:1041px;top:982px;width:34px;height:34px;border-radius:50%;background:#2a2a2a"></div>');
[[1051,993],[1058,993],[1065,993],[1051,1000],[1058,1000],[1065,1000],[1051,1007],[1058,1007],[1065,1007]].forEach(a=>rect(a[0]-2,a[1]-2,4,4,'#fff','border-radius:50%'));
rect(1042,1028,32,1,'#e6e7ea');

// bottom bar
[['1D',79],['5D',110],['1M',140],['3M',172],['6M',204],['YTD',239],['1Y',272],['5Y',301],['All',328]].forEach(a=>txt(a[1],1061,a[0],'font-size:13.5px;color:#333'));
rect(349,1050,1,22,'#e8e9ee');
ic(371,1061,'<rect x="5" y="4" width="15" height="17" rx="1"/><path d="M5 8h15M9 2v3M16 2v3M1 16h8M6 13l3 3-3 3" /><path d="M1 12h3" stroke="#fff"/>',21);
txt(922,1061,'15:13:00 UTC+8','font-size:13.5px;color:#333');
rect(982,1050,1,22,'#e8e9ee');
txt(1008,1061,'ADJ','font-size:13.5px;color:#333');
ic(1000,1027,'<path d="M12 2l8 5v10l-8 5-8-5V7z"/><circle cx="12" cy="12" r="3"/>',16);
</script></body></html>
